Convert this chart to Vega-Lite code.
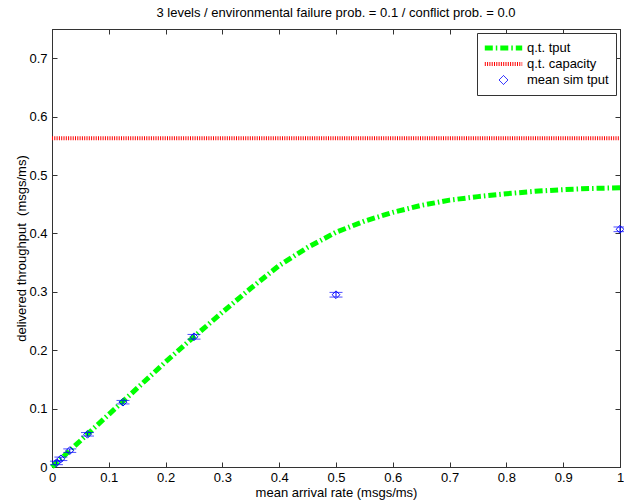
{
  "$schema": "https://vega.github.io/schema/vega-lite/v6.json",
  "width": 568,
  "height": 438,
  "autosize": {"type": "none"},
  "padding": {"left": 52, "top": 29, "right": 4, "bottom": 37},
  "background": "white",
  "title": {"text": "3 levels / environmental failure prob. = 0.1 / conflict prob. = 0.0", "fontSize": 13, "fontWeight": "normal", "font": "Liberation Sans", "color": "black", "offset": 9},
  "datasets": {
    "curve": [
      {"x": 0, "y": 0, "series": "q.t. tput"},
      {"x": 0.05, "y": 0.045, "series": "q.t. tput"},
      {"x": 0.1, "y": 0.09, "series": "q.t. tput"},
      {"x": 0.15, "y": 0.135, "series": "q.t. tput"},
      {"x": 0.2, "y": 0.18, "series": "q.t. tput"},
      {"x": 0.25, "y": 0.223, "series": "q.t. tput"},
      {"x": 0.3, "y": 0.265, "series": "q.t. tput"},
      {"x": 0.35, "y": 0.306, "series": "q.t. tput"},
      {"x": 0.4, "y": 0.345, "series": "q.t. tput"},
      {"x": 0.45, "y": 0.376, "series": "q.t. tput"},
      {"x": 0.5, "y": 0.402, "series": "q.t. tput"},
      {"x": 0.55, "y": 0.421, "series": "q.t. tput"},
      {"x": 0.6, "y": 0.436, "series": "q.t. tput"},
      {"x": 0.65, "y": 0.448, "series": "q.t. tput"},
      {"x": 0.7, "y": 0.457, "series": "q.t. tput"},
      {"x": 0.75, "y": 0.463, "series": "q.t. tput"},
      {"x": 0.8, "y": 0.468, "series": "q.t. tput"},
      {"x": 0.85, "y": 0.472, "series": "q.t. tput"},
      {"x": 0.9, "y": 0.475, "series": "q.t. tput"},
      {"x": 0.95, "y": 0.477, "series": "q.t. tput"},
      {"x": 1.0, "y": 0.478, "series": "q.t. tput"}
    ],
    "cap": [
      {"x": 0, "y": 0.563, "series": "q.t. capacity"},
      {"x": 1, "y": 0.563, "series": "q.t. capacity"}
    ],
    "sim": [
      {"x": 0.0078125, "y": 0.007, "lo": 0.004, "hi": 0.010, "series": "mean sim tput"},
      {"x": 0.015625, "y": 0.014, "lo": 0.011, "hi": 0.017, "series": "mean sim tput"},
      {"x": 0.03125, "y": 0.028, "lo": 0.025, "hi": 0.031, "series": "mean sim tput"},
      {"x": 0.0625, "y": 0.056, "lo": 0.053, "hi": 0.059, "series": "mean sim tput"},
      {"x": 0.125, "y": 0.111, "lo": 0.108, "hi": 0.114, "series": "mean sim tput"},
      {"x": 0.25, "y": 0.223, "lo": 0.219, "hi": 0.227, "series": "mean sim tput"},
      {"x": 0.5, "y": 0.295, "lo": 0.291, "hi": 0.299, "series": "mean sim tput"},
      {"x": 1.0, "y": 0.407, "lo": 0.403, "hi": 0.411, "series": "mean sim tput"}
    ]
  },
  "layer": [
    {
      "layer": [
        {
          "data": {"name": "cap"},
          "mark": {"type": "line", "strokeWidth": 4, "strokeDash": [1, 1.3], "clip": true},
          "encoding": {
            "x": {"field": "x", "type": "quantitative", "scale": {"domain": [0, 1], "nice": false}, "axis": {"orient": "bottom", "values": [0, 0.1, 0.2, 0.3, 0.4, 0.5, 0.6, 0.7, 0.8, 0.9, 1], "format": "~g", "title": "mean arrival rate (msgs/ms)", "labelFlush": false, "labelOverlap": false}},
            "y": {"field": "y", "type": "quantitative", "scale": {"domain": [0, 0.75], "nice": false}, "axis": {"orient": "left", "values": [0, 0.1, 0.2, 0.3, 0.4, 0.5, 0.6, 0.7], "format": "~g", "title": "delivered throughput \u00a0(msgs/ms)", "labelFlush": false, "labelOverlap": false, "labelPadding": 10, "titlePadding": 0}},
            "color": {
              "field": "series", "type": "nominal",
              "scale": {"domain": ["q.t. tput", "q.t. capacity", "mean sim tput"], "range": ["#00ff00", "#ff0000", "#0000ff"]},
              "legend": {
                "title": null,
                "orient": "top-right",
                "offset": 4,
                "padding": 7,
                "symbolSize": 1400,
                "symbolType": "stroke",
                "clipHeight": 16,
                "rowPadding": 0,
                "labelOffset": 17,
                "symbolOffset": 13,
                "encode": {
                  "symbols": {
                    "update": {
                      "shape": {"signal": "datum.value === 'mean sim tput' ? 'M0,-0.24L0.24,0L0,0.24L-0.24,0Z' : 'stroke'"},
                      "size": {"value": 1400},
                      "strokeWidth": {"signal": "datum.value === 'q.t. tput' ? 5 : datum.value === 'q.t. capacity' ? 4 : 1"},
                      "strokeDash": {"signal": "datum.value === 'q.t. tput' ? [8, 3, 1.5, 3] : datum.value === 'q.t. capacity' ? [1, 1.3] : [1, 0]"},
                      "fill": {"value": "transparent"},
                      "stroke": {"scale": "color", "field": "value"},
                      "opacity": {"value": 1}
                    }
                  }
                }
              }
            }
          }
        },
        {
          "data": {"name": "curve"},
          "mark": {"type": "line", "strokeWidth": 5, "strokeDash": [8, 3, 1.5, 3]},
          "encoding": {
            "x": {"field": "x", "type": "quantitative"},
            "y": {"field": "y", "type": "quantitative"},
            "color": {"field": "series", "type": "nominal"}
          }
        },
        {
          "data": {"name": "sim"},
          "mark": {"type": "rule", "color": "#0000ff", "strokeWidth": 1},
          "encoding": {
            "x": {"field": "x", "type": "quantitative"},
            "y": {"field": "lo", "type": "quantitative"},
            "y2": {"field": "hi"}
          }
        },
        {
          "data": {"name": "sim"},
          "mark": {"type": "tick", "orient": "horizontal", "color": "#0000ff", "size": 13, "thickness": 1},
          "encoding": {
            "x": {"field": "x", "type": "quantitative"},
            "y": {"field": "lo", "type": "quantitative"}
          }
        },
        {
          "data": {"name": "sim"},
          "mark": {"type": "tick", "orient": "horizontal", "color": "#0000ff", "size": 13, "thickness": 1},
          "encoding": {
            "x": {"field": "x", "type": "quantitative"},
            "y": {"field": "hi", "type": "quantitative"}
          }
        },
        {
          "data": {"name": "sim"},
          "mark": {"type": "point", "shape": "diamond", "filled": false, "size": 60, "strokeWidth": 1, "opacity": 1},
          "encoding": {
            "x": {"field": "x", "type": "quantitative"},
            "y": {"field": "y", "type": "quantitative"},
            "color": {"field": "series", "type": "nominal"}
          }
        }
      ]
    },
    {
      "data": {"name": "cap"},
      "mark": {"type": "line", "opacity": 0},
      "encoding": {
        "x": {"field": "x", "type": "quantitative", "axis": {"orient": "top", "values": [0, 0.1, 0.2, 0.3, 0.4, 0.5, 0.6, 0.7, 0.8, 0.9, 1], "labels": false, "title": null}},
        "y": {"field": "y", "type": "quantitative", "axis": {"orient": "right", "values": [0, 0.1, 0.2, 0.3, 0.4, 0.5, 0.6, 0.7], "labels": false, "title": null}}
      }
    }
  ],
  "resolve": {"axis": {"x": "independent", "y": "independent"}},
  "config": {
    "font": "Liberation Sans",
    "view": {"stroke": "#333333", "strokeWidth": 1},
    "axis": {
      "grid": false,
      "domainColor": "#333333",
      "tickColor": "#333333",
      "tickSize": -5,
      "labelPadding": 9,
      "labelFont": "Liberation Sans",
      "labelFontSize": 13,
      "labelColor": "black",
      "titleFont": "Liberation Sans",
      "titleFontSize": 13,
      "titleFontWeight": "normal",
      "titleColor": "black",
      "titlePadding": 2
    },
    "legend": {
      "strokeColor": "#333333",
      "fillColor": "white",
      "labelFont": "Liberation Sans",
      "labelFontSize": 13,
      "labelColor": "black"
    }
  }
}
